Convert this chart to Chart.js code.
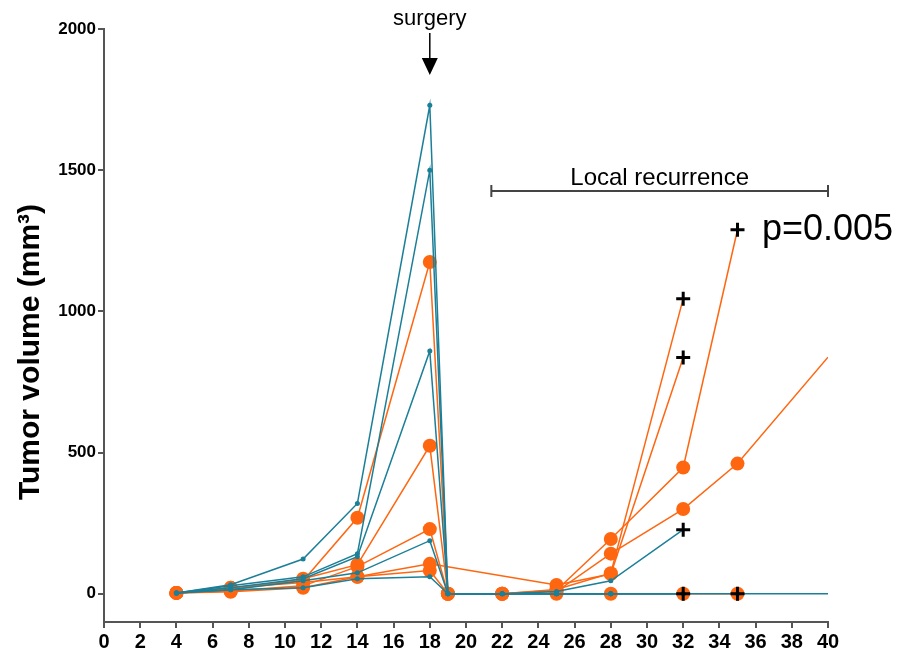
<!DOCTYPE html>
<html>
<head>
<meta charset="utf-8">
<script src="https://cdn.jsdelivr.net/npm/chart.js@4.4.1/dist/chart.umd.min.js"></script>
<style>
  html, body { margin: 0; padding: 0; background: #fff; }
  #wrap { width: 898px; height: 653px; }
</style>
</head>
<body>
<div id="wrap"><canvas id="tumorChart" width="898" height="653"></canvas></div>
<script>
// measurement days (x axis)
const days = [4, 7, 11, 14, 18, 19, 22, 25, 28, 32, 35, 40];

// teal group, one array per mouse (null = not measured)
const teal1 = [3, 32, 123, 320, 1730, 0, 0, 0, 0, 0, 0, 0];
const teal2 = [3, 28, 60, 142, 1500, 0, 0, 0, 0, 0, null, null];
const teal3 = [3, 21, 53, 131, 860, 0, 0, 8, 46, 227, null, null];
const teal4 = [3, 14, 46, 74, 188, 0, 0, 0, 0, 0, null, null];
const teal5 = [3, 14, 21, 53, 60, 0, 0, 0, 0, null, null, null];

// orange group
const orange1 = [3, 21, 46, 269, 1175, 0, 0, 15, 73, 1045, null, null];
const orange2 = [3, 14, 53, 103, 524, 0, 0, 12, 194, 447, 1289, null];
const orange3 = [3, 10, 28, 96, 229, 0, 0, 8, 142, 300, 461, 838];
const orange4 = [3, 21, 40, 60, 106, null, null, 31, 70, 837, null, null];
const orange5 = [3, 7, 21, 60, 82, 0, 0, 0, 0, 0, 0, null];

// deaths (+ markers)
const deathDays = [32, 32, 32, 35, 32, 35];
const deathVols = [1045, 837, 227, 1289, 0, 0];

const yTicks = [0, 500, 1000, 1500, 2000];

const TEAL = '#1b7f98';
const ORANGE = '#ff6610';
const AXIS = '#555555';

function pts(arr) {
  return days.map((d, i) => ({ x: d, y: arr[i] })).filter(p => p.y !== null);
}

// no dot where a + marks the last measurement above zero
function isDeathMark(p) {
  return p.y > 0 && deathDays.some((d, i) => d === p.x && deathVols[i] === p.y);
}

function mouse(arr, color, r, order) {
  const data = pts(arr);
  return {
    data: data,
    borderColor: color,
    backgroundColor: color,
    borderWidth: 1.5,
    pointRadius: data.map(p => (p.x === 40 || isDeathMark(p) ? 0 : r)),
    pointBorderWidth: 0,
    pointBackgroundColor: color,
    spanGaps: true,
    tension: 0,
    order: order
  };
}

const datasets = [
  {
    data: deathDays.map((d, i) => ({ x: d, y: deathVols[i] })),
    showLine: false,
    pointStyle: 'cross',
    pointRadius: 7,
    pointBorderWidth: 3,
    pointBorderColor: '#000',
    order: 0
  },
  mouse(teal1, TEAL, 2.5, 1),
  mouse(teal2, TEAL, 2.5, 1),
  mouse(teal3, TEAL, 2.5, 1),
  mouse(teal4, TEAL, 2.5, 1),
  mouse(teal5, TEAL, 2.5, 1),
  mouse(orange1, ORANGE, 7, 2),
  mouse(orange2, ORANGE, 7, 2),
  mouse(orange3, ORANGE, 7, 2),
  mouse(orange4, ORANGE, 7, 2),
  mouse(orange5, ORANGE, 7, 2)
];

const notes = {
  id: 'notes',
  afterDraw(chart) {
    const c = chart.ctx;
    const xs = chart.scales.x;
    c.save();
    c.fillStyle = '#000';
    c.strokeStyle = '#000';

    // y axis title
    c.save();
    c.translate(31, 352);
    c.rotate(-Math.PI / 2);
    c.font = 'bold 30px "Liberation Sans", Arial, sans-serif';
    c.textAlign = 'center';
    c.textBaseline = 'middle';
    c.fillText('Tumor volume (mm³)', 0, 0);
    c.restore();

    // surgery arrow
    const sx = xs.getPixelForValue(18);
    c.font = '22px "Liberation Sans", Arial, sans-serif';
    c.textAlign = 'center';
    c.textBaseline = 'alphabetic';
    c.fillText('surgery', sx, 25);
    c.lineWidth = 1.5;
    c.beginPath();
    c.moveTo(sx, 33);
    c.lineTo(sx, 60);
    c.stroke();
    c.beginPath();
    c.moveTo(sx - 8, 58);
    c.lineTo(sx + 8, 58);
    c.lineTo(sx, 75);
    c.closePath();
    c.fill();

    // local recurrence bracket
    const bx1 = xs.getPixelForValue(21.4), bx2 = xs.getPixelForValue(40);
    const by = 191;
    c.strokeStyle = '#444';
    c.lineWidth = 2;
    c.beginPath();
    c.moveTo(bx1, by); c.lineTo(bx2, by);
    c.moveTo(bx1, by - 6); c.lineTo(bx1, by + 6);
    c.moveTo(bx2, by - 6); c.lineTo(bx2, by + 6);
    c.stroke();
    c.font = '24px "Liberation Sans", Arial, sans-serif';
    c.fillText('Local recurrence', (bx1 + bx2) / 2, 185);

    // p value
    c.font = '36px "Liberation Sans", Arial, sans-serif';
    c.textAlign = 'left';
    c.fillText('p=0.005', 762, 240);
    c.restore();
  }
};

new Chart(document.getElementById('tumorChart'), {
  type: 'line',
  data: { datasets: datasets },
  options: {
    responsive: false,
    animation: false,
    layout: { padding: { top: 29, right: 70, left: 0, bottom: 0 } },
    plugins: {
      legend: { display: false },
      tooltip: { enabled: false }
    },
    scales: {
      x: {
        type: 'linear',
        min: 0,
        max: 40,
        ticks: {
          stepSize: 2,
          color: '#000',
          padding: 2,
          maxRotation: 0,
          autoSkip: false,
          font: { family: '"Liberation Sans Narrow", "Liberation Sans", Arial', size: 20, weight: 'bold' }
        },
        grid: { drawOnChartArea: false, drawTicks: true, tickLength: 6, color: AXIS, lineWidth: 2 },
        border: { color: AXIS, width: 2 },
        afterFit(scale) { scale.height = 31; }
      },
      y: {
        min: -100,
        max: 2000,
        afterBuildTicks(scale) { scale.ticks = yTicks.map(v => ({ value: v })); },
        ticks: {
          color: '#000',
          padding: 2,
          callback: v => String(v),
          font: { family: '"Liberation Sans", Arial', size: 17, weight: 'bold' }
        },
        grid: { drawOnChartArea: false, drawTicks: true, tickLength: 6, color: AXIS, lineWidth: 2 },
        border: { color: AXIS, width: 2 },
        afterFit(scale) { scale.width = 104; }
      }
    }
  },
  plugins: [notes]
});
</script>
</body>
</html>
